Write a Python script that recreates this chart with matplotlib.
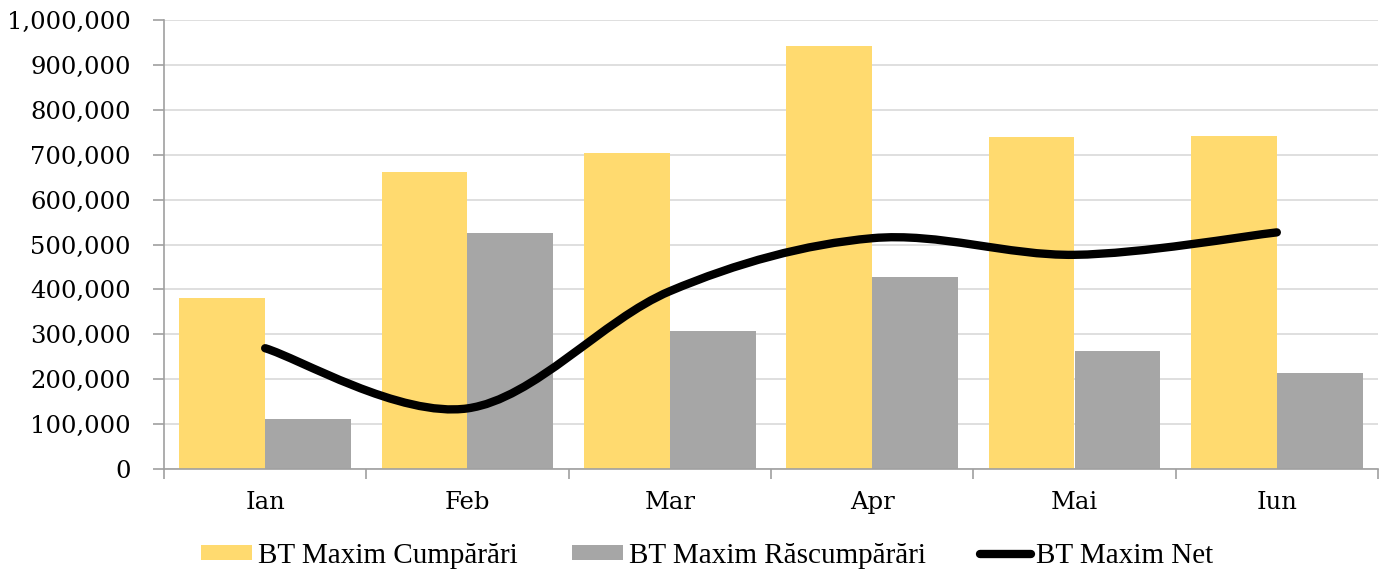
import matplotlib
matplotlib.use("Agg")
import matplotlib.pyplot as plt
import numpy as np
from matplotlib.path import Path
from matplotlib.patches import PathPatch, Patch
from matplotlib.lines import Line2D
from matplotlib.ticker import FuncFormatter, FixedLocator

categories = ["Ian", "Feb", "Mar", "Apr", "Mai", "Iun"]
cumparari = [380000, 661000, 704000, 942000, 740000, 741000]
rascumparari = [111000, 526000, 308000, 428000, 263000, 214000]
net = [269000, 135000, 396000, 514000, 477000, 527000]

YELLOW = "#FFDA6F"
GRAY = "#A6A6A6"

plt.rcParams["font.family"] = ["DejaVu Serif"]

fig = plt.figure(figsize=(13.83, 5.69), dpi=100)
ax = fig.add_axes([164/1383, 1-469/569, (1378-164)/1383, (469-20)/569])

x = np.arange(len(categories))
w = 0.425
ax.bar(x - w/2, cumparari, width=w, color=YELLOW, zorder=2)
ax.bar(x + w/2, rascumparari, width=w, color=GRAY, zorder=2)

# smooth line (Catmull-Rom style Bezier, like Excel smoothing)
pts = np.column_stack([x, net]).astype(float)
verts = [tuple(pts[0])]
codes = [Path.MOVETO]
n = len(pts)
for i in range(n - 1):
    p0 = pts[i - 1] if i > 0 else pts[i]
    p1 = pts[i]
    p2 = pts[i + 1]
    p3 = pts[i + 2] if i + 2 < n else pts[i + 1]
    c1 = p1 + (p2 - p0) / 6.0
    c2 = p2 - (p3 - p1) / 6.0
    verts += [tuple(c1), tuple(c2), tuple(p2)]
    codes += [Path.CURVE4] * 3
path = Path(verts, codes)
LW = 6.0
ax.add_patch(PathPatch(path, facecolor="none", edgecolor="black", lw=LW,
                       capstyle="round", joinstyle="round", zorder=3))

ax.set_xlim(-0.5, len(categories) - 0.5)
ax.set_ylim(0, 1000000)
ax.set_yticks(np.arange(0, 1000001, 100000))
ax.yaxis.set_major_formatter(FuncFormatter(lambda v, p: f"{int(v):,}"))
ax.grid(axis="y", color="#D9D9D9", lw=1.2, zorder=0)
ax.set_axisbelow(True)

ax.xaxis.set_major_locator(FixedLocator(np.arange(-0.5, len(categories), 1.0)))
ax.xaxis.set_minor_locator(FixedLocator(x))
ax.set_xticklabels([], minor=False)
ax.set_xticklabels(categories, minor=True)
ax.tick_params(axis="x", which="major", length=7, width=1.2, color="#A0A0A0", direction="out")
ax.tick_params(axis="x", which="minor", length=0, pad=16, labelsize=17.5)
ax.tick_params(axis="y", length=8, width=1.2, color="#A0A0A0", direction="out", labelsize=17.5, pad=16)

for s in ["top", "right"]:
    ax.spines[s].set_visible(False)
for s in ["left", "bottom"]:
    ax.spines[s].set_color("#A0A0A0")
    ax.spines[s].set_linewidth(1.2)

handles = [Patch(facecolor=YELLOW, label="BT Maxim Cumpărări"),
           Patch(facecolor=GRAY, label="BT Maxim Răscumpărări"),
           Line2D([0], [0], color="black", lw=LW, solid_capstyle="round", label="BT Maxim Net")]
fig.legend(handles=handles, loc="center", bbox_to_anchor=(0.5115, 1-556/569), ncol=3,
           frameon=False, handlelength=1.75, handleheight=0.45,
           handletextpad=0.2, columnspacing=1.85,
           prop={"family": "Liberation Serif", "size": 21})

fig.savefig("out.png", dpi=100)
